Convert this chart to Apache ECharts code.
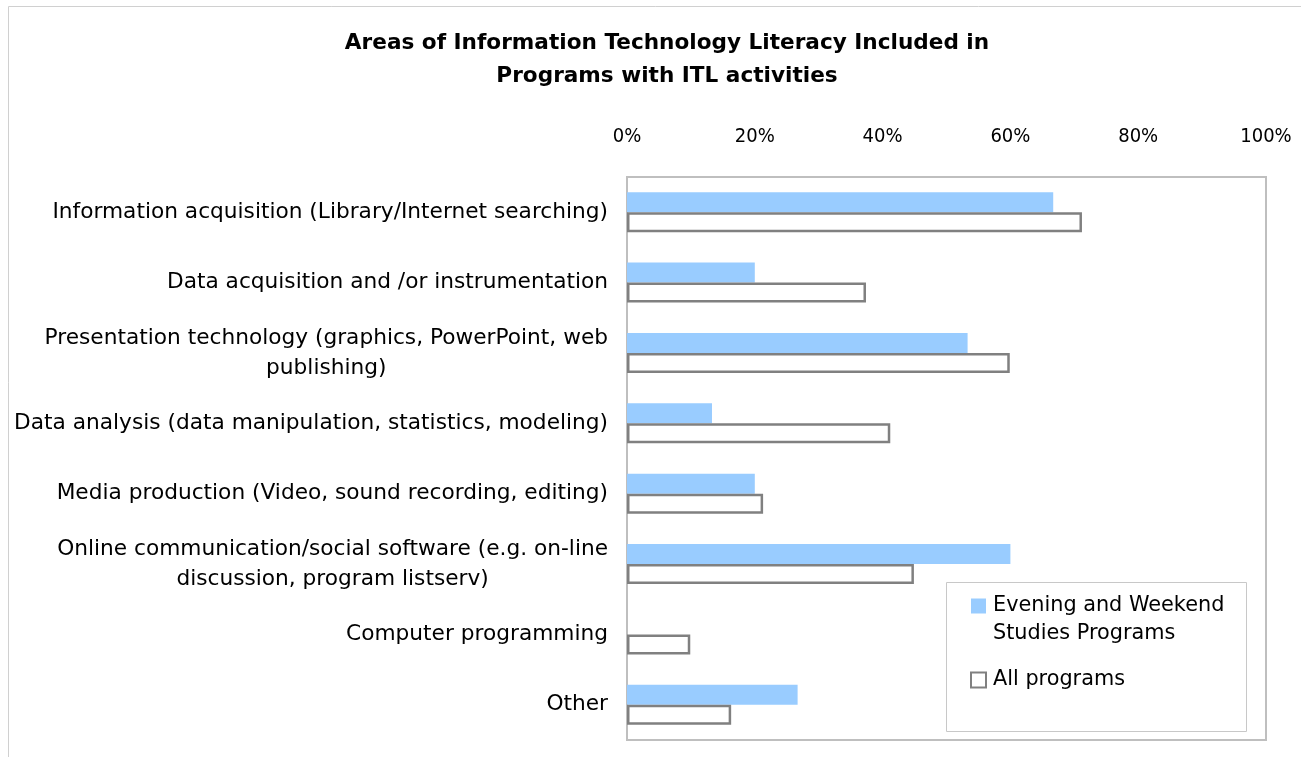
<!DOCTYPE html>
<html>
<head>
<meta charset="utf-8">
<script src="https://cdn.jsdelivr.net/npm/echarts@6/dist/echarts.min.js"></script>
<style>
  html, body { margin: 0; padding: 0; background: #fff; }
  #chart { width: 1301px; height: 757px; }
</style>
</head>
<body>
<div id="chart"></div>
<script>
// categories, top to bottom
const categories = [
  'Information acquisition (Library/Internet searching)',
  'Data acquisition and /or instrumentation',
  'Presentation technology (graphics, PowerPoint, web\npublishing)',
  'Data analysis (data manipulation, statistics, modeling)',
  'Media production (Video, sound recording, editing)',
  'Online communication/social software (e.g. on-line\ndiscussion, program listserv)',
  'Computer programming',
  'Other'
]

// series values (%)
const eveningWeekend = [66.7, 20.0, 53.3, 13.3, 20.0, 60.0, 0, 26.7]
const allPrograms = [71.2, 37.4, 59.9, 41.2, 21.3, 44.9, 9.9, 16.3]

const seriesNames = ['Evening and Weekend Studies Programs', 'All programs']
const FONT = "'DejaVu Sans', 'Liberation Sans', sans-serif"
const FONT_NARROW = "'DejaVu Sans Condensed', 'Liberation Sans', sans-serif"

const chart = echarts.init(document.getElementById('chart'))

const option = {
  animation: false,
  backgroundColor: '#fff',
  title: {
    text: 'Areas of Information Technology Literacy Included in\nPrograms with ITL activities',
    left: 662,
    top: 22,
    textAlign: 'center',
    textStyle: {
      fontFamily: FONT,
      fontSize: 21.6,
      fontWeight: 'bold',
      color: '#000',
      lineHeight: 33
    }
  },
  graphic: [
    {
      type: 'rect',
      shape: { x: 8.5, y: 6.5, width: 1300, height: 760 },
      style: { fill: 'none', stroke: '#d0d0d0', lineWidth: 1 },
      silent: true
    },
    {
      type: 'rect',
      shape: { x: 946.5, y: 582.5, width: 300, height: 149 },
      style: { fill: '#fff', stroke: '#c8c8c8', lineWidth: 1 },
      silent: true
    }
  ],
  legend: {
    orient: 'vertical',
    left: 970,
    top: 564,
    icon: 'rect',
    itemWidth: 15,
    itemHeight: 15,
    itemGap: 18,
    padding: 0,
    // blank first line keeps the icon level with the first visible line
    formatter: (name) => name === seriesNames[0] ? ' \nEvening and Weekend\nStudies Programs' : name,
    textStyle: {
      fontFamily: FONT,
      fontSize: 20.8,
      lineHeight: 28,
      color: '#000',
      padding: [0, 0, 0, 2]
    },
    data: seriesNames
  },
  grid: {
    left: 627,
    right: 35,
    top: 177,
    bottom: 17,
    show: true,
    borderColor: '#bfbfbf',
    borderWidth: 2,
    containLabel: false
  },
  xAxis: {
    type: 'value',
    position: 'top',
    min: 0,
    max: 100,
    interval: 20,
    axisLine: { show: false },
    axisTick: { show: false },
    splitLine: { show: false },
    axisLabel: {
      margin: 30,
      formatter: '{value}%',
      fontFamily: FONT_NARROW,
      fontSize: 20,
      color: '#000'
    }
  },
  yAxis: {
    type: 'category',
    inverse: true,
    data: categories,
    axisLine: { show: false },
    axisTick: { show: false },
    axisLabel: {
      margin: 19,
      fontFamily: FONT,
      fontSize: 21.7,
      color: '#000',
      formatter: (v) => v.split('\n').map((l) => '{c|' + l + '}').join('\n'),
      rich: {
        c: {
          align: 'center',
          fontFamily: FONT,
          fontSize: 21.7,
          lineHeight: 30,
          color: '#000'
        }
      }
    }
  },
  series: [
    {
      name: seriesNames[0],
      type: 'bar',
      data: eveningWeekend,
      barWidth: 20,
      barGap: '0%',
      itemStyle: { color: '#99ccff' }
    },
    {
      name: seriesNames[1],
      type: 'bar',
      data: allPrograms,
      barWidth: 20,
      barGap: '0%',
      itemStyle: { color: '#fff', borderColor: '#808080', borderWidth: 2.5 }
    }
  ]
}

chart.setOption(option)
</script>
</body>
</html>
